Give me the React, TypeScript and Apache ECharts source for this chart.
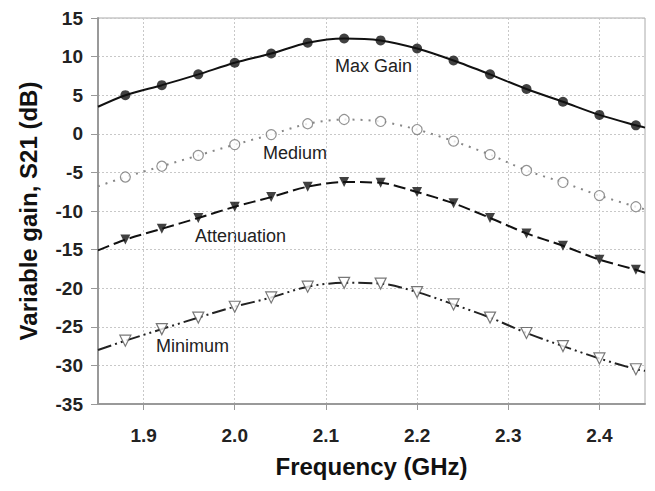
import { useEffect, useRef } from "react";
import * as echarts from "echarts";

const freq = [1.88, 1.92, 1.96, 2.0, 2.04, 2.08, 2.12, 2.16, 2.2, 2.24, 2.28, 2.32, 2.36, 2.4, 2.44];
const maxGain = [5.0, 6.3, 7.7, 9.2, 10.4, 11.8, 12.35, 12.1, 11.05, 9.5, 7.7, 5.8, 4.15, 2.45, 1.1];
const medium = [-5.6, -4.2, -2.8, -1.4, -0.1, 1.3, 1.85, 1.6, 0.55, -0.95, -2.7, -4.75, -6.3, -8.0, -9.45];
const attenuation = [-13.7, -12.3, -10.9, -9.45, -8.2, -6.85, -6.25, -6.35, -7.55, -9.0, -10.9, -12.9, -14.5, -16.3, -17.6];
const minimum = [-26.8, -25.3, -23.8, -22.4, -21.2, -19.8, -19.3, -19.4, -20.5, -22.1, -23.8, -25.8, -27.5, -29.1, -30.5];
const edgeFreq = [1.85, 2.45];
const maxGainEdges = [3.5, 0.8];
const mediumEdges = [-6.8, -9.8];
const attenuationEdges = [-15.1, -18.0];
const minimumEdges = [-28.0, -30.7];
const xTicks = [1.9, 2.0, 2.1, 2.2, 2.3, 2.4];
const labels = ["Max Gain", "Medium", "Attenuation", "Minimum"];

const FONT = "Liberation Sans, Arial, sans-serif";

function curve(vals: number[], edges: number[]) {
  return [[edgeFreq[0], edges[0]], ...freq.map((f, i) => [f, vals[i]]), [edgeFreq[1], edges[1]]];
}
function pts(vals: number[]) {
  return freq.map((f, i) => [f, vals[i]]);
}

export default function App() {
  const ref = useRef<HTMLDivElement>(null);
  useEffect(() => {
    if (!ref.current) return;
    const chart = echarts.init(ref.current, undefined, { renderer: "svg" });
    const option: any = {
      animation: false,
      backgroundColor: "#ffffff",
      grid: {
        left: 98,
        top: 18,
        right: 10,
        bottom: 87,
        show: true,
        borderColor: "#aaaaaa",
        borderWidth: 1,
        backgroundColor: "#ffffff",
      },
      xAxis: {
        type: "value",
        min: 1.85,
        max: 2.45,
        name: "Frequency (GHz)",
        nameLocation: "middle",
        nameGap: 50,
        nameTextStyle: { fontFamily: FONT, fontWeight: "bold", fontSize: 24, color: "#111" },
        axisLine: { show: true, onZero: false, lineStyle: { color: "#999", width: 2 } },
        axisTick: { show: true, length: 6, customValues: xTicks, lineStyle: { color: "#999" } },
        axisLabel: {
          customValues: xTicks,
          formatter: (v: number) => v.toFixed(1),
          fontFamily: FONT,
          fontWeight: "bold",
          fontSize: 19,
          color: "#222",
          margin: 22,
        },
        splitLine: { show: true, lineStyle: { color: "#c8c8c8", type: [2, 2], width: 1 } },
      },
      yAxis: {
        type: "value",
        min: -35,
        max: 15,
        interval: 5,
        name: "Variable gain, S21 (dB)",
        nameLocation: "middle",
        nameGap: 58,
        nameTextStyle: { fontFamily: FONT, fontWeight: "bold", fontSize: 24, color: "#111" },
        axisLine: { show: true, onZero: false, lineStyle: { color: "#999", width: 2 } },
        axisTick: { show: true, length: 7, lineStyle: { color: "#999" } },
        axisLabel: {
          fontFamily: FONT,
          fontWeight: "bold",
          fontSize: 19,
          color: "#222",
          margin: 15,
        },
        splitLine: { show: true, lineStyle: { color: "#c8c8c8", type: [2, 2], width: 1 } },
      },
      series: [
        {
          type: "line",
          data: curve(maxGain, maxGainEdges),
          smooth: 0.3,
          showSymbol: false,
          lineStyle: { color: "#111", width: 2 },
          z: 3,
        },
        {
          type: "scatter",
          data: pts(maxGain),
          symbol: "circle",
          symbolSize: 10,
          itemStyle: { color: "#111" },
          z: 4,
        },
        {
          type: "line",
          data: curve(medium, mediumEdges),
          smooth: 0.3,
          showSymbol: false,
          lineStyle: { color: "#888", width: 2, type: [2, 6] },
          z: 3,
        },
        {
          type: "scatter",
          data: pts(medium),
          symbol: "circle",
          symbolSize: 10,
          itemStyle: { color: "#fff", borderColor: "#777", borderWidth: 1.2 },
          z: 4,
        },
        {
          type: "line",
          data: curve(attenuation, attenuationEdges),
          smooth: 0.3,
          showSymbol: false,
          lineStyle: { color: "#111", width: 2, type: [12, 5] },
          z: 3,
        },
        {
          type: "scatter",
          data: pts(attenuation),
          symbol: "triangle",
          symbolRotate: 180,
          symbolSize: 10,
          itemStyle: { color: "#111" },
          z: 4,
        },
        {
          type: "line",
          data: curve(minimum, minimumEdges),
          smooth: 0.3,
          showSymbol: false,
          lineStyle: { color: "#222", width: 2, type: [14, 4, 2, 4, 2, 4] },
          z: 3,
        },
        {
          type: "scatter",
          data: pts(minimum),
          symbol: "triangle",
          symbolRotate: 180,
          symbolSize: 11,
          itemStyle: { color: "#fff", borderColor: "#555", borderWidth: 1.2 },
          z: 4,
        },
      ],
      graphic: [
        { type: "text", left: 335, top: 57, style: { text: labels[0], font: `18px ${FONT}`, fill: "#222" } },
        { type: "text", left: 263, top: 144, style: { text: labels[1], font: `18px ${FONT}`, fill: "#222" } },
        { type: "text", left: 195, top: 227, style: { text: labels[2], font: `18px ${FONT}`, fill: "#222" } },
        { type: "text", left: 156, top: 337, style: { text: labels[3], font: `18px ${FONT}`, fill: "#222" } },
      ],
    };
    chart.setOption(option);
    return () => chart.dispose();
  }, []);
  return <div ref={ref} style={{ position: "fixed", left: 0, top: 0, width: 655, height: 491 }} />;
}
